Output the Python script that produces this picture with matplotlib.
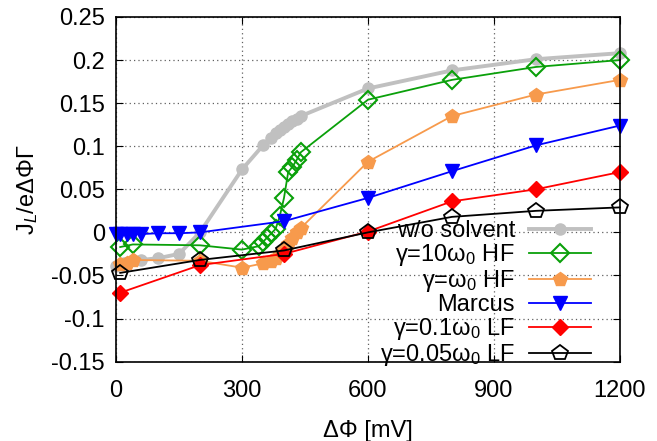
import matplotlib
matplotlib.use("Agg")
import matplotlib.pyplot as plt

plt.rcParams['font.family'] = ['Liberation Sans', 'DejaVu Sans']
plt.rcParams['mathtext.fontset'] = 'custom'
plt.rcParams['mathtext.rm'] = 'Liberation Sans'
plt.rcParams['mathtext.it'] = 'Liberation Sans:italic'
plt.rcParams['axes.unicode_minus'] = False

# current J_L/(e dPhi Gamma) vs bias dPhi [mV]
x_nosolv = [0, 20, 60, 100, 150, 200, 300, 350, 370, 380, 390, 400, 410, 420, 430, 440, 600, 800, 1000, 1200]
y_nosolv = [-0.039, -0.035, -0.032, -0.030, -0.025, 0.0, 0.073, 0.101, 0.110, 0.115, 0.119, 0.122, 0.126,
            0.129, 0.132, 0.135, 0.167, 0.188, 0.201, 0.208]

x_hf10 = [10, 40, 200, 300, 340, 350, 360, 370, 380, 390, 400, 410, 420, 430, 440, 600, 800, 1000, 1200]
y_hf10 = [-0.017, -0.014, -0.015, -0.020, -0.016, -0.011, -0.006, -0.001, 0.004, 0.019, 0.040, 0.070,
          0.076, 0.084, 0.093, 0.154, 0.177, 0.192, 0.200]

x_hf1 = [10, 25, 40, 200, 300, 350, 370, 380, 390, 400, 410, 420, 430, 440, 600, 800, 1000, 1200]
y_hf1 = [-0.037, -0.035, -0.032, -0.033, -0.041, -0.036, -0.033, -0.030, -0.025, -0.020, -0.013, -0.007,
         0.0, 0.005, 0.082, 0.135, 0.160, 0.177]

x_marcus = [0, 10, 25, 40, 60, 100, 150, 200, 400, 600, 800, 1000, 1200]
y_marcus = [-0.002, -0.002, -0.002, -0.002, -0.002, -0.001, -0.001, 0.0, 0.013, 0.040, 0.071, 0.101, 0.124]

x_lf = [10, 200, 400, 600, 800, 1000, 1200]
y_lf01 = [-0.070, -0.038, -0.025, 0.001, 0.036, 0.050, 0.070]
y_lf005 = [-0.047, -0.032, -0.021, 0.0, 0.018, 0.025, 0.029]

xticks = [0, 300, 600, 900, 1200]
yticks = [-0.15, -0.1, -0.05, 0, 0.05, 0.1, 0.15, 0.2, 0.25]
ytick_labels = ["-0.15", "-0.1", "-0.05", "0", "0.05", "0.1", "0.15", "0.2", "0.25"]

fig = plt.figure(figsize=(6.57, 4.41), dpi=100)
ax = fig.add_axes([0.1766, 0.180, 0.767, 0.7815])

ax.plot(x_nosolv, y_nosolv, '-o', color='#c0c0c0', lw=2.8, ms=8, label="w/o solvent", clip_on=False)
ax.plot(x_hf10, y_hf10, '-D', color='#0aa00a', lw=1.3, ms=9, mfc='none', mew=1.5,
        label=r"γ=10ω$_0$ HF", clip_on=False)
ax.plot(x_hf1, y_hf1, '-p', color='#f79a4c', lw=1.3, ms=10.5, label=r"γ=ω$_0$ HF", clip_on=False)
ax.plot(x_marcus, y_marcus, '-v', color='#0000ff', lw=1.3, ms=9.5, label="Marcus", clip_on=False)
ax.plot(x_lf, y_lf01, '-D', color='#ff0000', lw=1.3, ms=8.5, label=r"γ=0.1ω$_0$ LF", clip_on=False)
ax.plot(x_lf, y_lf005, '-p', color='black', lw=1.3, ms=11.5, mfc='none', mew=1.3,
        label=r"γ=0.05ω$_0$ LF", clip_on=False)

ax.set_xlim(0, 1200)
ax.set_ylim(-0.15, 0.25)
ax.set_xticks(xticks)
ax.set_yticks(yticks)
ax.set_yticklabels(ytick_labels)
ax.tick_params(direction='in', length=5, top=True, right=True, labelsize=17)
ax.tick_params(axis='y', pad=8)
ax.tick_params(axis='x', pad=13)
ax.grid(True, color='#606060', linestyle=(0, (1, 2.5)), lw=0.9)
for s in ax.spines.values():
    s.set_linewidth(1.2)

ax.set_xlabel("ΔΦ [mV]", fontsize=17, labelpad=13)
ax.set_ylabel(r"J$_L$/eΔΦΓ", fontsize=17, labelpad=8)

ax.legend(loc='lower right', bbox_to_anchor=(0.965, -0.053), frameon=False, markerfirst=False,
          fontsize=17, handlelength=2.6, handletextpad=0.6, labelspacing=0.0, borderpad=0)

plt.savefig("out.png", dpi=100)
